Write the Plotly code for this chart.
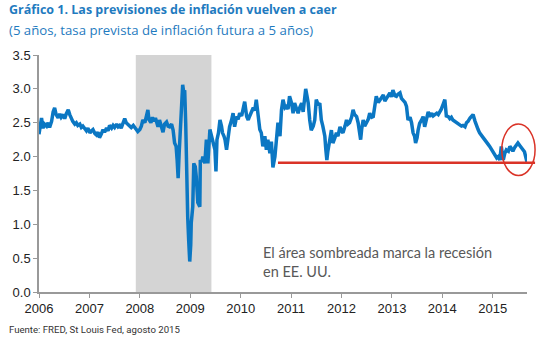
import plotly.graph_objects as go

# ---- data ----
years = [2006.00, 2006.03, 2006.05, 2006.08, 2006.11, 2006.15, 2006.18, 2006.21, 2006.25, 2006.28,
         2006.31, 2006.34, 2006.38, 2006.41, 2006.44, 2006.48, 2006.51, 2006.54, 2006.58, 2006.61,
         2006.64, 2006.67, 2006.71, 2006.74, 2006.77, 2006.81, 2006.84, 2006.87, 2006.91, 2006.94,
         2006.97, 2007.01, 2007.04, 2007.07, 2007.11, 2007.14, 2007.17, 2007.20, 2007.24, 2007.27,
         2007.30, 2007.34, 2007.37, 2007.40, 2007.44, 2007.47, 2007.50, 2007.54, 2007.57, 2007.60,
         2007.63, 2007.67, 2007.70, 2007.73, 2007.77, 2007.80, 2007.83, 2007.87, 2007.90, 2007.93,
         2007.96, 2008.00, 2008.03, 2008.06, 2008.10, 2008.13, 2008.16, 2008.18, 2008.22, 2008.25,
         2008.28, 2008.31, 2008.34, 2008.36, 2008.39, 2008.43, 2008.46, 2008.49, 2008.53, 2008.56,
         2008.59, 2008.63, 2008.66, 2008.69, 2008.72, 2008.74, 2008.76, 2008.78, 2008.80, 2008.82,
         2008.85, 2008.87, 2008.89, 2008.91, 2008.93, 2008.95, 2008.97, 2008.99, 2009.01, 2009.02,
         2009.05, 2009.07, 2009.10, 2009.12, 2009.15, 2009.17, 2009.19, 2009.20, 2009.23, 2009.25,
         2009.29, 2009.32, 2009.35, 2009.39, 2009.42, 2009.45, 2009.49, 2009.51, 2009.53, 2009.56,
         2009.59, 2009.62, 2009.64, 2009.67, 2009.69, 2009.72, 2009.74, 2009.78, 2009.82, 2009.85,
         2009.88, 2009.92, 2009.95, 2009.98, 2010.02, 2010.05, 2010.08, 2010.12, 2010.15, 2010.18,
         2010.21, 2010.25, 2010.28, 2010.31, 2010.35, 2010.38, 2010.41, 2010.44, 2010.48, 2010.51,
         2010.54, 2010.58, 2010.61, 2010.64, 2010.68, 2010.71, 2010.74, 2010.78, 2010.81, 2010.84,
         2010.88, 2010.91, 2010.94, 2010.97, 2011.01, 2011.04, 2011.07, 2011.11, 2011.14, 2011.17,
         2011.21, 2011.24, 2011.27, 2011.29, 2011.32, 2011.34, 2011.37, 2011.40, 2011.44, 2011.47,
         2011.50, 2011.54, 2011.57, 2011.60, 2011.63, 2011.67, 2011.69, 2011.71, 2011.73, 2011.75,
         2011.78, 2011.80, 2011.83, 2011.87, 2011.90, 2011.93, 2011.97, 2012.00, 2012.03, 2012.07,
         2012.10, 2012.13, 2012.16, 2012.20, 2012.23, 2012.26, 2012.30, 2012.33, 2012.35, 2012.38,
         2012.40, 2012.43, 2012.46, 2012.50, 2012.53, 2012.56, 2012.60, 2012.63, 2012.66, 2012.69,
         2012.73, 2012.76, 2012.79, 2012.83, 2012.86, 2012.89, 2012.92, 2012.96, 2012.99, 2013.02,
         2013.06, 2013.09, 2013.12, 2013.16, 2013.19, 2013.22, 2013.26, 2013.29, 2013.32, 2013.36,
         2013.39, 2013.42, 2013.45, 2013.47, 2013.50, 2013.52, 2013.55, 2013.59, 2013.62, 2013.65,
         2013.69, 2013.72, 2013.75, 2013.79, 2013.82, 2013.85, 2013.89, 2013.92, 2013.95, 2013.98,
         2014.02, 2014.05, 2014.08, 2014.12, 2014.15, 2014.18, 2014.21, 2014.25, 2014.28, 2014.31,
         2014.35, 2014.38, 2014.41, 2014.45, 2014.48, 2014.51, 2014.55, 2014.58, 2014.61, 2014.65,
         2014.68, 2014.71, 2014.74, 2014.78, 2014.81, 2014.84, 2014.88, 2014.91, 2014.94, 2014.98,
         2015.01, 2015.04, 2015.08, 2015.11, 2015.14, 2015.17, 2015.21, 2015.24, 2015.27, 2015.31,
         2015.34, 2015.37, 2015.40, 2015.44, 2015.47, 2015.50, 2015.54, 2015.57, 2015.60, 2015.63,
         2015.65, 2015.68]

rate = [2.33, 2.45, 2.57, 2.42, 2.48, 2.45, 2.50, 2.43, 2.52, 2.66,
        2.72, 2.62, 2.57, 2.63, 2.58, 2.62, 2.56, 2.63, 2.69, 2.62,
        2.55, 2.52, 2.48, 2.50, 2.46, 2.48, 2.43, 2.45, 2.41, 2.38,
        2.42, 2.35, 2.38, 2.40, 2.34, 2.32, 2.36, 2.28, 2.34, 2.40,
        2.36, 2.42, 2.38, 2.46, 2.42, 2.46, 2.43, 2.48, 2.44, 2.46,
        2.42, 2.50, 2.56, 2.50, 2.47, 2.45, 2.43, 2.46, 2.42, 2.40,
        2.37, 2.40, 2.45, 2.54, 2.50, 2.62, 2.69, 2.55, 2.50, 2.58,
        2.52, 2.57, 2.48, 2.44, 2.54, 2.45, 2.36, 2.48, 2.51, 2.45,
        2.44, 2.48, 2.39, 2.20, 2.15, 1.95, 1.68, 2.05, 2.35, 2.70,
        3.06, 2.95, 2.98, 2.50, 1.60, 1.10, 0.75, 0.45, 0.70, 1.02,
        1.26, 1.90, 1.85, 1.70, 1.32, 1.30, 1.26, 1.95, 1.92, 2.00,
        1.90, 2.25, 1.90, 2.40, 2.30, 2.25, 2.10, 1.78, 2.25, 2.35,
        2.54, 2.45, 2.35, 2.30, 2.25, 2.10, 2.25, 2.44, 2.54, 2.64,
        2.44, 2.59, 2.55, 2.64, 2.60, 2.72, 2.81, 2.59, 2.54, 2.60,
        2.64, 2.72, 2.68, 2.84, 2.59, 2.40, 2.35, 2.15, 2.30, 2.10,
        2.25, 2.05, 2.22, 1.84, 2.00, 2.25, 2.50, 2.30, 2.69, 2.84,
        2.72, 2.74, 2.70, 2.89, 2.79, 2.64, 2.79, 2.70, 2.64, 2.72,
        2.79, 2.66, 2.85, 3.00, 2.88, 2.79, 2.54, 2.39, 2.45, 2.54,
        2.84, 2.76, 2.79, 2.54, 2.45, 2.30, 2.10, 1.95, 2.08, 2.15,
        2.30, 2.39, 2.20, 2.28, 2.35, 2.30, 2.44, 2.38, 2.35, 2.45,
        2.54, 2.48, 2.50, 2.58, 2.69, 2.62, 2.59, 2.50, 2.35, 2.25,
        2.40, 2.54, 2.45, 2.50, 2.55, 2.64, 2.58, 2.59, 2.72, 2.89,
        2.80, 2.84, 2.88, 2.91, 2.82, 2.86, 2.90, 2.94, 2.88, 2.98,
        2.90, 2.89, 2.92, 2.94, 2.86, 2.84, 2.80, 2.74, 2.54, 2.58,
        2.50, 2.35, 2.30, 2.20, 2.28, 2.39, 2.49, 2.54, 2.59, 2.44,
        2.55, 2.66, 2.59, 2.64, 2.60, 2.62, 2.64, 2.62, 2.66, 2.70,
        2.78, 2.84, 2.60, 2.59, 2.56, 2.58, 2.54, 2.52, 2.50, 2.48,
        2.47, 2.45, 2.46, 2.44, 2.50, 2.52, 2.57, 2.60, 2.62, 2.52,
        2.44, 2.40, 2.35, 2.32, 2.28, 2.25, 2.22, 2.18, 2.15, 2.10,
        2.05, 2.02, 1.98, 2.00, 1.95, 2.15, 1.95, 2.05, 2.10, 2.08,
        2.15, 2.12, 2.08, 2.14, 2.18, 2.20, 2.16, 2.12, 2.10, 2.07,
        2.00, 1.92]

tick_years = list(range(2006, 2016))
y_ticks = [0.0, 0.5, 1.0, 1.5, 2.0, 2.5, 3.0, 3.5]
recession = (2007.92, 2009.42)
floor_level = 1.91
floor_span = (2010.74, 2015.84)
circle_x = (2015.18, 2015.84)
circle_y = (1.72, 2.48)
x_range = (2006.0, 2015.68)
y_range = (0.0, 3.5)

title = "Gráfico 1. Las previsiones de inflación vuelven a caer"
subtitle = "(5 años, tasa prevista de inflación futura a 5 años)"
note = "El área sombreada marca la recesión<br>en EE. UU."
source = "Fuente: FRED, St Louis Fed, agosto 2015"


def to_paper(v):
    return (v - x_range[0]) / (x_range[1] - x_range[0])


BLUE = "#0B77C3"
RED = "#DA3327"

fig = go.Figure()
fig.add_trace(go.Scatter(x=years, y=rate, mode="lines",
                         line=dict(color=BLUE, width=3.5), hoverinfo="skip",
                         showlegend=False))

fig.add_shape(type="rect", xref="x", yref="y", x0=recession[0], x1=recession[1],
              y0=y_range[0], y1=y_range[1], fillcolor="#D4D4D4",
              line=dict(width=0), layer="below")
fig.add_shape(type="line", xref="paper", yref="y",
              x0=to_paper(floor_span[0]), x1=to_paper(floor_span[1]),
              y0=floor_level, y1=floor_level, line=dict(color=RED, width=2.5))
fig.add_shape(type="circle", xref="paper", yref="y",
              x0=to_paper(circle_x[0]), x1=to_paper(circle_x[1]),
              y0=circle_y[0], y1=circle_y[1], line=dict(color=RED, width=1.5))

fig.add_annotation(text="<b>" + title + "</b>", xref="paper", yref="paper",
                   x=-0.066, y=1.19, xanchor="left", yanchor="middle", showarrow=False,
                   font=dict(family="Open Sans", size=12.5, color="#1F7BC0"))
fig.add_annotation(text=subtitle, xref="paper", yref="paper",
                   x=-0.066, y=1.105, xanchor="left", yanchor="middle", showarrow=False,
                   font=dict(family="Open Sans", size=13.2, color="#1F7BC0"))
fig.add_annotation(text=note, xref="x", yref="y", x=2010.40, y=0.74,
                   xanchor="left", yanchor="top", align="left", showarrow=False,
                   font=dict(family="Lato", size=14.5, color="#595959"))
fig.add_annotation(text=source, xref="paper", yref="paper",
                   x=-0.066, y=-0.16, xanchor="left", yanchor="middle", showarrow=False,
                   font=dict(family="Roboto", size=9.6, color="#333333"))

axis_common = dict(showgrid=False, zeroline=False, showline=True, linecolor="#999999",
                   linewidth=1.5, ticks="outside", ticklen=4, tickcolor="#999999",
                   tickfont=dict(family="Liberation Sans, Arial", size=13, color="#222222"))
fig.update_xaxes(range=list(x_range), tickvals=tick_years, ticktext=[str(t) for t in tick_years],
                 **axis_common)
fig.update_yaxes(range=list(y_range), tickvals=y_ticks, tickformat=".1f", **axis_common)

fig.update_layout(width=545, height=350, margin=dict(l=39, r=18, t=55, b=58),
                  paper_bgcolor="white", plot_bgcolor="white", showlegend=False)

fig.write_html("out.html")
